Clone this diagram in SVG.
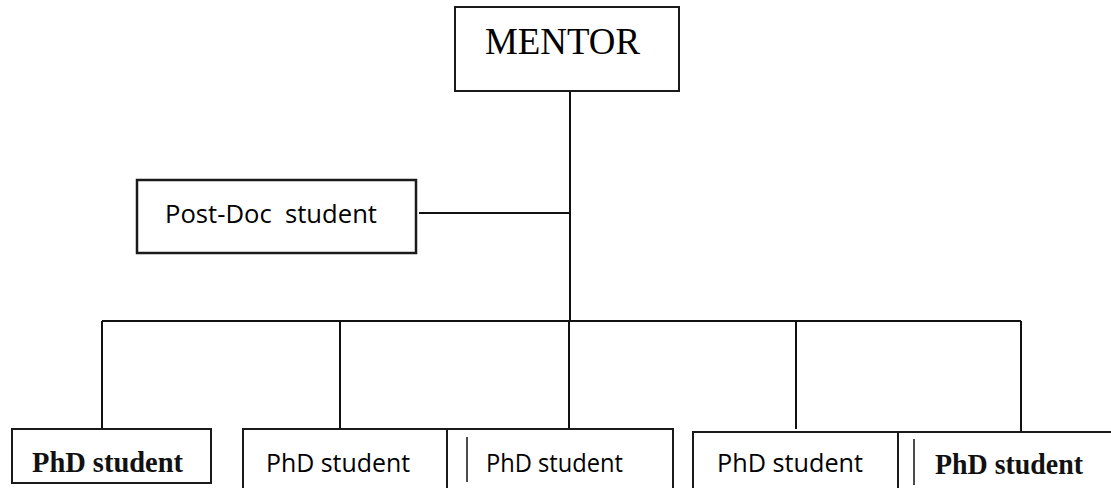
<svg xmlns="http://www.w3.org/2000/svg" width="1111" height="488" viewBox="0 0 1111 488">
<style>
.box{fill:#fff;stroke:#1a1a1a;stroke-width:2}
.ln{stroke:#111;stroke-width:2;fill:none}
.sans{font-family:"Open Sans","Liberation Sans",sans-serif;font-size:26px;fill:#000}
.bser{font-family:"Liberation Serif",serif;font-weight:bold;font-size:29px;fill:#111}
.ser{font-family:"Liberation Serif",serif;font-size:37px;fill:#000}
</style>
<rect width="1111" height="488" fill="#fff"/>
<g id="connectors">
<path class="ln" d="M570 91V322"/>
<path class="ln" d="M419 213H570"/>
<path class="ln" d="M102 321H1021"/>
<path class="ln" d="M102 321V429"/>
<path class="ln" d="M340 321V429"/>
<path class="ln" d="M569 321V429"/>
<path class="ln" d="M796 321V429"/>
<path class="ln" d="M1021 321V432"/>
</g>
<g id="mentor">
<rect class="box" x="455" y="7" width="224" height="84"/>
<text class="ser" x="485" y="54" textLength="155" lengthAdjust="spacingAndGlyphs">MENTOR</text>
</g>
<g id="postdoc">
<rect class="box" x="137" y="180" width="279" height="73" style="stroke-width:2.5"/>
<text class="sans" x="165" y="223" xml:space="preserve" textLength="212" lengthAdjust="spacingAndGlyphs">Post-Doc  student</text>
</g>
<g id="phd1">
<rect class="box" x="12" y="429" width="199" height="54"/>
<text class="bser" x="32" y="472" textLength="151" lengthAdjust="spacingAndGlyphs">PhD student</text>
</g>
<g id="phd2">
<rect class="box" x="243" y="429" width="204" height="70"/>
<text class="sans" x="266" y="472" textLength="144" lengthAdjust="spacingAndGlyphs">PhD student</text>
</g>
<g id="phd3">
<rect class="box" x="447" y="429" width="226" height="70"/>
<path class="ln" d="M467 437V482" style="stroke-width:1.5"/>
<text class="sans" x="486" y="472" textLength="137" lengthAdjust="spacingAndGlyphs">PhD student</text>
</g>
<g id="phd4">
<rect class="box" x="693" y="432" width="205" height="70"/>
<text class="sans" x="717" y="472" textLength="146" lengthAdjust="spacingAndGlyphs">PhD student</text>
</g>
<g id="phd5">
<rect class="box" x="898" y="432" width="230" height="70"/>
<path class="ln" d="M914 439V485" style="stroke-width:1.5"/>
<text class="bser" x="935" y="474" textLength="148" lengthAdjust="spacingAndGlyphs">PhD student</text>
</g>
</svg>
